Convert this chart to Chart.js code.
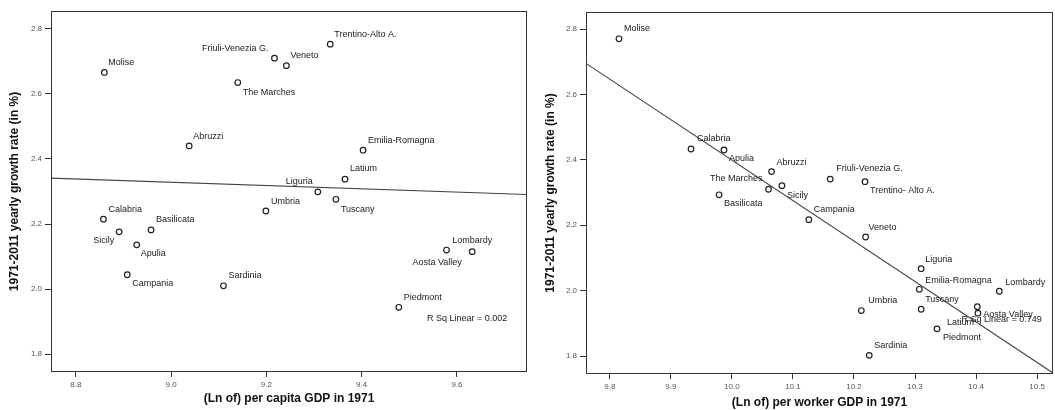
<!DOCTYPE html>
<html><head><meta charset="utf-8">
<script src="https://cdn.jsdelivr.net/npm/chart.js@4/dist/chart.umd.min.js"></script>
<style>
html,body{margin:0;padding:0;background:#fff;width:1055px;height:410px;overflow:hidden}
#c1{position:absolute;left:0;top:0}
#c2{position:absolute;left:527px;top:0}
</style></head><body>
<canvas id="c1" width="530" height="410"></canvas>
<canvas id="c2" width="528" height="410"></canvas>
<script>
// ---------- DATA ----------
const regions = ['Molise','The Marches','Abruzzi','Friuli-Venezia G.','Veneto','Trentino-Alto A.','Emilia-Romagna','Latium','Liguria','Tuscany','Umbria','Sardinia','Calabria','Sicily','Basilicata','Apulia','Campania','Lombardy','Aosta Valley','Piedmont'];
const regionsRight = ['Molise','The Marches','Abruzzi','Friuli-Venezia G.','Veneto','Trentino- Alto A.','Emilia-Romagna','Latium','Liguria','Tuscany','Umbria','Sardinia','Calabria','Sicily','Basilicata','Apulia','Campania','Lombardy','Aosta Valley','Piedmont'];
const gdpPerCapita1971 = [8.860, 9.140, 9.038, 9.217, 9.242, 9.334, 9.403, 9.365, 9.308, 9.346, 9.199, 9.110, 8.858, 8.891, 8.958, 8.928, 8.908, 9.632, 9.578, 9.478];
const growthPerCapita = [2.666, 2.635, 2.440, 2.710, 2.687, 2.753, 2.427, 2.338, 2.299, 2.276, 2.240, 2.010, 2.215, 2.176, 2.182, 2.136, 2.044, 2.115, 2.120, 1.944];
const gdpPerWorker1971 = [9.815, 10.060, 10.065, 10.161, 10.219, 10.218, 10.307, 10.403, 10.310, 10.310, 10.212, 10.225, 9.933, 10.082, 9.979, 9.987, 10.126, 10.438, 10.402, 10.336];
const growthPerWorker = [2.770, 2.310, 2.364, 2.341, 2.164, 2.333, 2.004, 1.931, 2.067, 1.943, 1.939, 1.802, 2.433, 2.321, 2.293, 2.430, 2.217, 1.998, 1.951, 1.883];
const fitLeftX = [8.748, 9.747];
const fitLeftY = [2.341, 2.291];
const fitRightX = [9.761, 10.526];
const fitRightY = [2.695, 1.748];
const xTicksLeft = [8.8, 9.0, 9.2, 9.4, 9.6];
const xTicksRight = [9.8, 9.9, 10.0, 10.1, 10.2, 10.3, 10.4, 10.5];
const yTicks = [1.8, 2.0, 2.2, 2.4, 2.6, 2.8];
const rSqLeft = 'R Sq Linear = 0.002';
const rSqRight = 'R Sq Linear = 0.749';
const yTitle = '1971-2011 yearly growth rate (in %)';
const xTitleLeft = '(Ln of) per capita GDP in 1971';
const xTitleRight = '(Ln of) per worker GDP in 1971';

// ---------- STYLE: label placements [dx, dy, align] ----------
const placeLeft = {
  'Molise':[4,-10,'left'], 'The Marches':[5,10,'left'], 'Abruzzi':[4,-9,'left'],
  'Friuli-Venezia G.':[-6,-10,'right'], 'Veneto':[4,-10,'left'], 'Trentino-Alto A.':[4,-10,'left'],
  'Emilia-Romagna':[5,-10,'left'], 'Latium':[5,-11,'left'], 'Liguria':[-5,-10,'right'],
  'Tuscany':[5,10,'left'], 'Umbria':[5,-9,'left'], 'Sardinia':[5,-10,'left'],
  'Calabria':[5,-10,'left'], 'Sicily':[-5,9,'right'], 'Basilicata':[5,-10,'left'],
  'Apulia':[4,9,'left'], 'Campania':[5,9,'left'], 'Lombardy':[-20,-11,'left'],
  'Aosta Valley':[-34,12,'left'], 'Piedmont':[5,-10,'left']
};
const placeRight = {
  'Molise':[5,-10,'left'], 'The Marches':[-6,-11,'right'], 'Abruzzi':[5,-9,'left'],
  'Friuli-Venezia G.':[6,-11,'left'], 'Veneto':[3,-9,'left'], 'Trentino- Alto A.':[5,9,'left'],
  'Emilia-Romagna':[6,-9,'left'], 'Latium':[-31,9,'left'], 'Liguria':[4,-9,'left'],
  'Tuscany':[4,-10,'left'], 'Umbria':[7,-10,'left'], 'Sardinia':[5,-10,'left'],
  'Calabria':[6,-11,'left'], 'Sicily':[5,10,'left'], 'Basilicata':[5,9,'left'],
  'Apulia':[5,9,'left'], 'Campania':[5,-10,'left'], 'Lombardy':[6,-9,'left'],
  'Aosta Valley':[6,8,'left'], 'Piedmont':[6,9,'left']
};

const FONT = "'Liberation Sans', Arial, sans-serif";

const framePlugin = {
  id: 'frame',
  afterDatasetsDraw(chart, args, opts) {
    const ctx = chart.ctx, a = chart.chartArea;
    const xs = chart.scales.x, ys = chart.scales.y;
    ctx.save();
    ctx.strokeStyle = '#333';
    ctx.lineWidth = 1;
    ctx.strokeRect(Math.round(a.left) + 0.5, Math.round(a.top) + 0.5, Math.round(a.right - a.left) - 1, Math.round(a.bottom - a.top) - 1);
    ctx.font = '9px ' + FONT;
    ctx.fillStyle = '#1a1a1a';
    ctx.textBaseline = 'middle';
    const names = opts.names, place = opts.place;
    const meta = chart.getDatasetMeta(1);
    names.forEach((n, i) => {
      const p = meta.data[i];
      const pl = place[n] || [5, -10, 'left'];
      ctx.textAlign = pl[2];
      ctx.fillText(n, p.x + pl[0], p.y + pl[1]);
    });
    ctx.textAlign = 'left';
    ctx.fillText(opts.rsq, xs.getPixelForValue(opts.rsqAt[0]), ys.getPixelForValue(opts.rsqAt[1]));
    ctx.restore();
  }
};

function makeChart(id, xv, yv, names, fx, fy, xTicks, xMin, xMax, yMin, yMax, xTitle, opts) {
  const pts = xv.map((x, i) => ({x: x, y: yv[i]}));
  const fit = fx.map((x, i) => ({x: x, y: fy[i]}));
  return new Chart(document.getElementById(id), {
    type: 'scatter',
    data: {
      datasets: [
        {type: 'line', data: fit, borderColor: '#444', borderWidth: 1.1, pointRadius: 0, fill: false, tension: 0},
        {data: pts, pointRadius: 2.8, pointBorderWidth: 1.2, pointBorderColor: '#222', pointBackgroundColor: '#fff'}
      ]
    },
    options: {
      responsive: false, animation: false, devicePixelRatio: 1,
      layout: {autoPadding: false, padding: {top: opts.top, right: opts.right, left: 0, bottom: 0}},
      plugins: {
        legend: {display: false}, tooltip: {enabled: false},
        frame: {names: names, place: opts.place, rsq: opts.rsq, rsqAt: opts.rsqAt}
      },
      scales: {
        x: {
          type: 'linear', position: 'bottom', min: xMin, max: xMax,
          afterBuildTicks: s => { s.ticks = xTicks.map(v => ({value: v})); },
          afterFit: s => { s.height = opts.xh; s.paddingLeft = 0; s.paddingRight = 0; },
          ticks: {callback: v => Number(v).toFixed(1), font: {family: FONT, size: 8}, color: '#555', padding: 3, maxRotation: 0, autoSkip: false},
          grid: {display: true, drawOnChartArea: false, drawTicks: true, tickLength: 5, color: '#333'},
          border: {display: false},
          title: {display: true, text: xTitle, font: {family: FONT, size: 12, weight: 'bold'}, color: '#111', padding: {top: 0, bottom: opts.xtp}}
        },
        y: {
          type: 'linear', position: 'left', min: yMin, max: yMax,
          afterBuildTicks: s => { s.ticks = yTicks.map(v => ({value: v})); },
          afterFit: s => { s.width = opts.yw; s.paddingTop = 0; s.paddingBottom = 0; },
          ticks: {callback: v => Number(v).toFixed(1), font: {family: FONT, size: 8}, color: '#555', padding: 3, autoSkip: false},
          grid: {display: true, drawOnChartArea: false, drawTicks: true, tickLength: 6, color: '#333'},
          border: {display: false},
          title: {display: true, text: yTitle, font: {family: FONT, size: 12, weight: 'bold'}, color: '#111', padding: {top: opts.ytp, bottom: 0}}
        }
      }
    },
    plugins: [framePlugin]
  });
}

makeChart('c1', gdpPerCapita1971, growthPerCapita, regions, fitLeftX, fitLeftY, xTicksLeft,
  8.748, 9.747, 1.745, 2.855, xTitleLeft,
  {top: 11, right: 3, xh: 38, yw: 51, xtp: 4, ytp: 7, place: placeLeft, rsq: rSqLeft, rsqAt: [9.537, 1.908]});

makeChart('c2', gdpPerWorker1971, growthPerWorker, regionsRight, fitRightX, fitRightY, xTicksRight,
  9.761, 10.526, 1.745, 2.852, xTitleRight,
  {top: 12, right: 2, xh: 36, yw: 59, xtp: 0, ytp: 16, place: placeRight, rsq: rSqRight, rsqAt: [10.376, 1.912]});
</script>
</body></html>
